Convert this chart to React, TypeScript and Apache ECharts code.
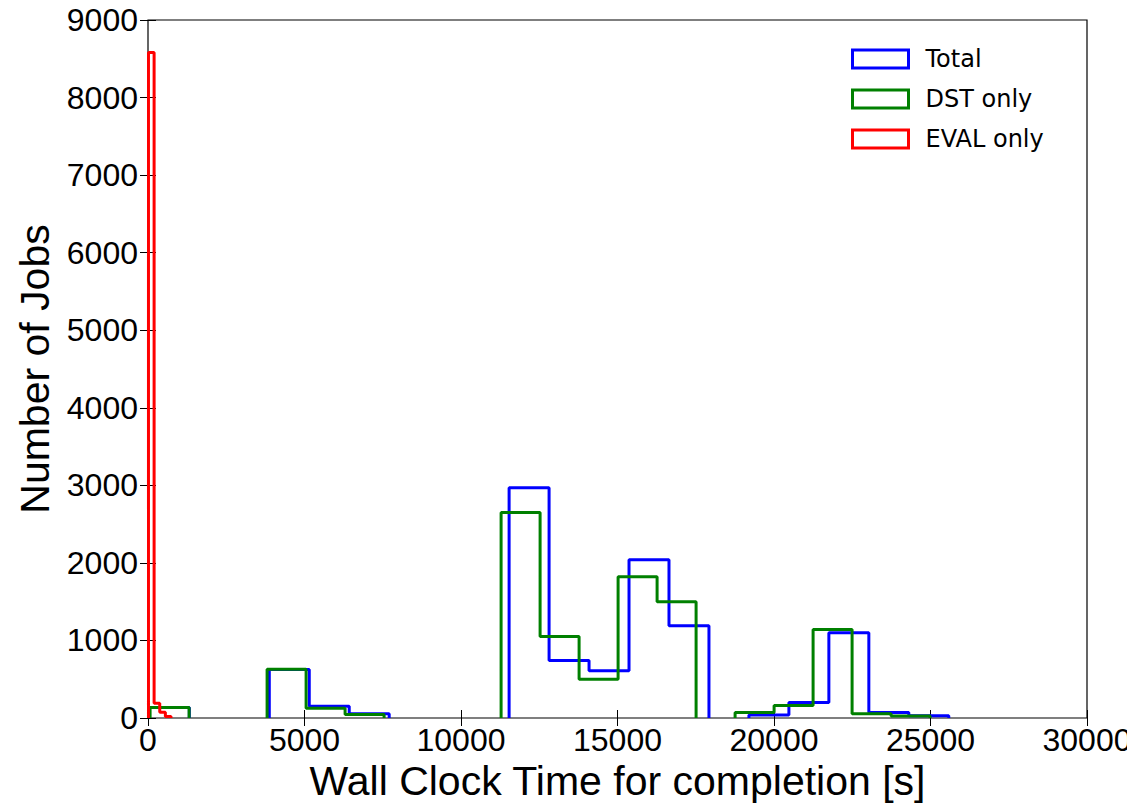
import React, { useEffect, useRef } from "react";
import * as echarts from "echarts";

// ---- Data ----
const seriesNames = ["Total", "DST only", "EVAL only"];
const seriesColors = ["#0000ff", "#008000", "#ff0000"];

// Total: 20 bins
const totalBinStart = 44;
const totalBinWidth = 1277;
const totalCounts = [135, 0, 0, 625, 150, 55, 0, 0, 0, 2970, 740, 610, 2040, 1190, 0, 40, 200, 1100, 70, 30];

// DST only: 20 bins
const dstBinStart = 67;
const dstBinWidth = 1246;
const dstCounts = [135, 0, 0, 630, 125, 45, 0, 0, 0, 2650, 1050, 500, 1820, 1500, 0, 70, 160, 1140, 55, 25];

// EVAL only: narrow bins near zero
const evalBinStart = 15;
const evalBinWidth = 180;
const evalCounts = [8580, 190, 75, 20];

const xMin = 0;
const xMax = 30000;
const xInterval = 5000;
const yMin = 0;
const yMax = 9000;
const yInterval = 1000;

const xTitle = "Wall Clock Time for completion [s]";
const yTitle = "Number of Jobs";

// Build a step-histogram outline (like matplotlib histtype='step'), zero runs left as gaps
function outline(start: number, width: number, counts: number[]) {
  const pts: (number | string)[][] = [];
  let prev = 0;
  for (let i = 0; i <= counts.length; i++) {
    const x = start + i * width;
    const c = i < counts.length ? counts[i] : 0;
    if (prev === 0 && c === 0) continue;
    if (prev === 0) {
      if (pts.length) pts.push([x, "-"]);
      pts.push([x, 0]);
      pts.push([x, c]);
    } else {
      pts.push([x, prev]);
      pts.push([x, c]);
    }
    prev = c;
  }
  return pts;
}

const FONT = "'Liberation Sans', Arial, sans-serif";
const plain = (v: number) => String(v);

export default function App() {
  const ref = useRef<HTMLDivElement>(null);

  useEffect(() => {
    if (!ref.current) return;
    const chart = echarts.init(ref.current, undefined, { renderer: "svg" });

    const datasets = [
      outline(totalBinStart, totalBinWidth, totalCounts),
      outline(dstBinStart, dstBinWidth, dstCounts),
      outline(evalBinStart, evalBinWidth, evalCounts),
    ];

    const tickStyle = { inside: true, length: 8, lineStyle: { color: "#000", width: 1 } };

    const option: any = {
      animation: false,
      backgroundColor: "#fff",
      grid: {
        left: 148,
        right: 40,
        top: 20,
        bottom: 85,
        show: true,
        borderColor: "#000",
        borderWidth: 1.2,
        backgroundColor: "transparent",
        containLabel: false,
        outerBoundsMode: "none",
      },
      legend: {
        orient: "vertical",
        left: 846,
        top: 42,
        itemWidth: 56,
        itemHeight: 18,
        itemGap: 16,
        icon: "rect",
        textStyle: {
          fontFamily: "'DejaVu Sans', sans-serif",
          fontSize: 24,
          color: "#000",
          padding: [0, 0, 0, 12],
        },
        data: seriesNames.map((n, i) => ({
          name: n,
          icon: "rect",
          itemStyle: { color: "rgba(255,255,255,0)", borderColor: seriesColors[i], borderWidth: 3 },
        })),
      },
      xAxis: [
        {
          type: "value",
          position: "bottom",
          min: xMin,
          max: xMax,
          interval: xInterval,
          axisLine: { show: false },
          axisTick: tickStyle,
          splitLine: { show: false },
          axisLabel: { fontFamily: FONT, fontSize: 32, color: "#000", margin: 6, formatter: plain },
          name: xTitle,
          nameLocation: "middle",
          nameGap: 37,
          nameTextStyle: { fontFamily: FONT, fontSize: 41, color: "#000" },
        },
        {
          type: "value",
          position: "top",
          min: xMin,
          max: xMax,
          interval: xInterval,
          axisLine: { show: false },
          axisTick: tickStyle,
          splitLine: { show: false },
          axisLabel: { show: false },
        },
      ],
      yAxis: [
        {
          type: "value",
          position: "left",
          min: yMin,
          max: yMax,
          interval: yInterval,
          axisLine: { show: false },
          axisTick: tickStyle,
          splitLine: { show: false },
          axisLabel: { fontFamily: FONT, fontSize: 32, color: "#000", margin: 10, formatter: plain },
          name: yTitle,
          nameLocation: "middle",
          nameGap: 73,
          nameTextStyle: { fontFamily: FONT, fontSize: 41, color: "#000" },
        },
        {
          type: "value",
          position: "right",
          min: yMin,
          max: yMax,
          interval: yInterval,
          axisLine: { show: false },
          axisTick: tickStyle,
          splitLine: { show: false },
          axisLabel: { show: false },
        },
      ],
      series: seriesNames.map((n, i) => ({
        name: n,
        type: "line",
        xAxisIndex: 0,
        yAxisIndex: 0,
        data: datasets[i],
        symbol: "none",
        showSymbol: false,
        connectNulls: false,
        lineStyle: { color: seriesColors[i], width: 3 },
        itemStyle: { color: seriesColors[i] },
        z: 2 + i,
      })),
    };

    chart.setOption(option);
    return () => chart.dispose();
  }, []);

  return (
    <div
      ref={ref}
      style={{ position: "fixed", left: 0, top: 0, width: 1127, height: 803, background: "#fff" }}
    />
  );
}
